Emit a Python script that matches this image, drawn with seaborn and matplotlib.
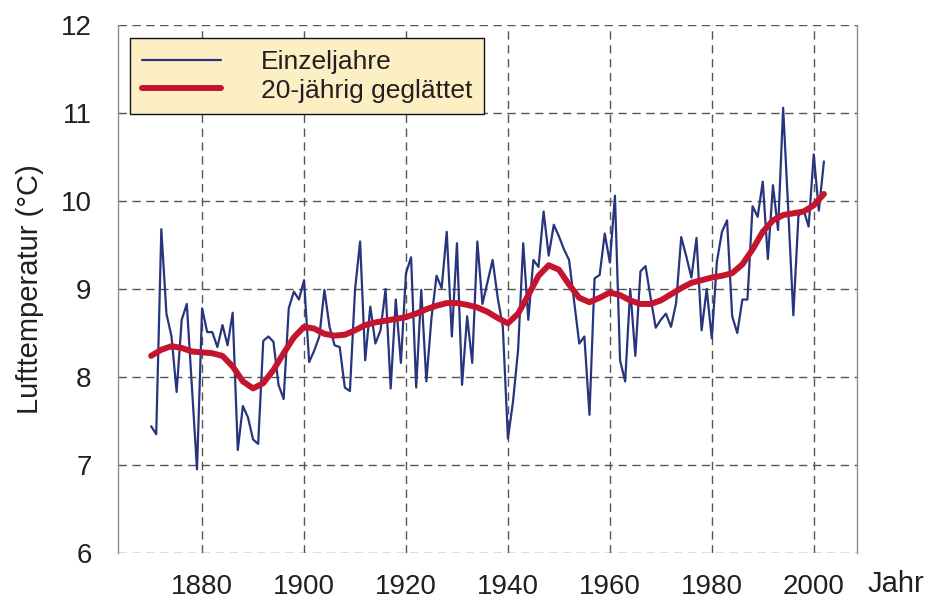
import matplotlib
matplotlib.use("Agg")
import matplotlib.pyplot as plt
import seaborn as sns
import pandas as pd

# yearly values
years = list(range(1870, 2003))
temps = [
    7.44, 7.35, 9.68, 8.72, 8.46, 7.83, 8.65, 8.83, 7.90, 6.95,   # 1870-1879
    8.78, 8.51, 8.51, 8.34, 8.59, 8.36, 8.73, 7.17, 7.67, 7.54,   # 1880-1889
    7.29, 7.24, 8.41, 8.46, 8.40, 7.91, 7.75, 8.78, 8.97, 8.88,   # 1890-1899
    9.10, 8.17, 8.30, 8.46, 8.99, 8.57, 8.36, 8.34, 7.88, 7.84,   # 1900-1909
    8.99, 9.54, 8.19, 8.80, 8.38, 8.53, 9.00, 7.87, 8.88, 8.16,   # 1910-1919
    9.18, 9.36, 7.88, 8.99, 7.95, 8.67, 9.15, 9.01, 9.65, 8.46,   # 1920-1929
    9.52, 7.91, 8.69, 8.16, 9.54, 8.83, 9.08, 9.33, 8.90, 8.57,   # 1930-1939
    7.30, 7.72, 8.31, 9.52, 8.65, 9.33, 9.25, 9.88, 9.38, 9.73,   # 1940-1949
    9.60, 9.45, 9.33, 8.85, 8.38, 8.46, 7.57, 9.12, 9.16, 9.63,   # 1950-1959
    9.30, 10.06, 8.19, 7.95, 9.00, 8.24, 9.20, 9.26, 8.90, 8.56,  # 1960-1969
    8.65, 8.72, 8.57, 8.84, 9.59, 9.37, 9.13, 9.58, 8.53, 9.00,   # 1970-1979
    8.44, 9.31, 9.65, 9.78, 8.69, 8.50, 8.88, 8.88, 9.94, 9.82,   # 1980-1989
    10.22, 9.34, 10.18, 9.67, 11.06, 9.90, 8.70, 9.83, 9.90, 9.71,  # 1990-1999
    10.53, 9.89, 10.45,                                           # 2000-2002
]

# 20-year smoothed curve
smooth_years = list(range(1870, 2003, 2))
smooth_vals = [
    8.24, 8.31, 8.35, 8.33, 8.29, 8.28, 8.27, 8.24, 8.12, 7.95,   # 1870-1888
    7.87, 7.93, 8.08, 8.27, 8.45, 8.57, 8.55, 8.49, 8.47, 8.48,   # 1890-1908
    8.53, 8.59, 8.62, 8.64, 8.66, 8.68, 8.72, 8.77, 8.81, 8.84,   # 1910-1928
    8.84, 8.82, 8.79, 8.74, 8.67, 8.61, 8.72, 8.93, 9.15, 9.27,   # 1930-1948
    9.22, 9.05, 8.90, 8.85, 8.90, 8.96, 8.93, 8.87, 8.83, 8.83,   # 1950-1968
    8.87, 8.94, 9.01, 9.07, 9.10, 9.13, 9.15, 9.18, 9.28, 9.45,   # 1970-1988
    9.65, 9.78, 9.84, 9.86, 9.88, 9.95, 10.08,                    # 1990-2002
]

yticks = [6, 7, 8, 9, 10, 11, 12]
xticks = [1880, 1900, 1920, 1940, 1960, 1980, 2000]

df = pd.DataFrame({"Jahr": years, "Temp": temps})
df_s = pd.DataFrame({"Jahr": smooth_years, "Temp": smooth_vals})

sns.set_style("white")
plt.rcParams["font.family"] = ["Liberation Sans", "DejaVu Sans"]

blue = "#27357e"
red = "#c4142e"
txt = "#231f20"

fig = plt.figure(figsize=(9.38, 6.01), dpi=100)
ax = fig.add_axes([0.1258, 0.0799, 0.7879, 0.8785])

sns.lineplot(data=df, x="Jahr", y="Temp", ax=ax, color=blue, linewidth=1.6,
             label="Einzeljahre", zorder=3)
sns.lineplot(data=df_s, x="Jahr", y="Temp", ax=ax, color=red, linewidth=4.3,
             label="20-jährig geglättet", zorder=4)

ax.set_xlim(1863.5, 2008.5)
ax.set_ylim(6, 12)
ax.set_xticks(xticks)
ax.set_yticks(yticks)
ax.set_xlabel("")
ax.set_ylabel("Lufttemperatur (°C)", fontsize=21, color=txt)
ax.yaxis.set_label_coords(-0.100, 0.5)

# dashed grid, light side spines
ax.grid(True, linestyle=(0, (6, 4)), color="#555555", linewidth=1.0)
for side in ["top", "bottom"]:
    ax.spines[side].set_visible(False)
for side in ["left", "right"]:
    ax.spines[side].set_color("#8a8a8a")
    ax.spines[side].set_linewidth(1.0)

ax.tick_params(axis="y", direction="out", length=7, width=1, color="#555555",
               labelsize=20, labelcolor=txt, pad=12)
ax.tick_params(axis="x", direction="inout", length=6, width=1, color="#555555",
               labelsize=20, labelcolor=txt, pad=12)

fig.text(868 / 938, 1 - 584 / 601, "Jahr", fontsize=21, color=txt,
         ha="left", va="center")

leg = ax.legend(loc="upper left", bbox_to_anchor=(0.0162, 0.9754),
                borderaxespad=0, fontsize=19, frameon=True, fancybox=False,
                handlelength=3.0, handletextpad=1.5, labelspacing=0.18,
                borderpad=0.45)
frame = leg.get_frame()
frame.set_facecolor("#fdefc4")
frame.set_edgecolor("#111111")
frame.set_linewidth(1.0)
frame.set_alpha(1)
for t in leg.get_texts():
    t.set_color(txt)

fig.savefig("out.png", dpi=100)
